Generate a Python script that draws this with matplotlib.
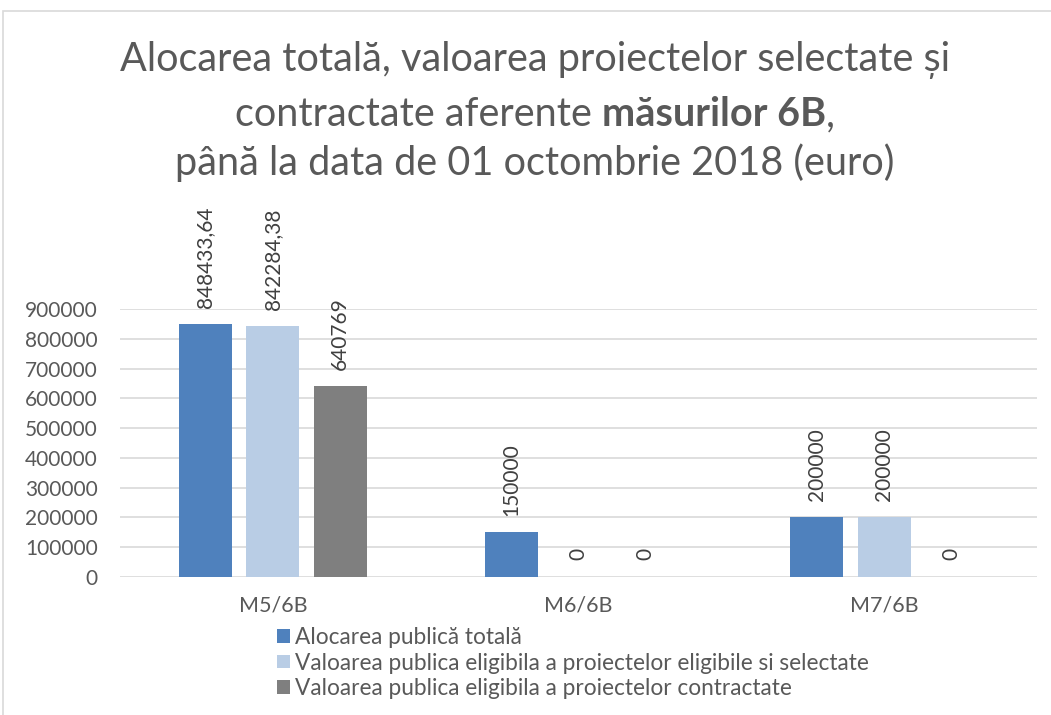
import matplotlib
matplotlib.use("Agg")
import matplotlib.pyplot as plt
import numpy as np
from matplotlib.patches import Rectangle

plt.rcParams['font.family'] = ['Lato', 'DejaVu Sans']

categories = ["M5/6B", "M6/6B", "M7/6B"]
series_names = ["Alocarea publică totală",
                "Valoarea publica eligibila a proiectelor eligibile si selectate",
                "Valoarea publica eligibila a proiectelor contractate"]
alocare = [848433.64, 150000, 200000]
selectate = [842284.38, 0, 200000]
contractate = [640769, 0, 0]
label_alocare = ["848433,64", "150000", "200000"]
label_selectate = ["842284,38", "0", "200000"]
label_contractate = ["640769", "0", "0"]
yticks = [0, 100000, 200000, 300000, 400000, 500000, 600000, 700000, 800000, 900000]

colors = ["#4f81bd", "#b9cde5", "#7f7f7f"]
text_col = "#595959"

fig = plt.figure(figsize=(10.51, 7.15), dpi=100)
W, H = 1051, 715

# chart border (goes past right and bottom edges)
fig.patches.append(Rectangle((3 / W, -0.1), 1.2, 1 - 11 / H + 0.1, transform=fig.transFigure,
                             fill=False, edgecolor="#d9d9d9", linewidth=1.2))

ax = fig.add_axes([120 / W, 1 - 577 / H, (1037 - 120) / W, (577 - 309) / H])

x = np.arange(len(categories))
bw = 0.173
step = 0.22
all_vals = [alocare, selectate, contractate]
all_labels = [label_alocare, label_selectate, label_contractate]
for i in range(3):
    pos = x + (i - 1) * step
    ax.bar(pos, all_vals[i], width=bw, color=colors[i], label=series_names[i], zorder=3)
    for p, v, lab in zip(pos, all_vals[i], all_labels[i]):
        ax.annotate(lab, (p, v), xytext=(0, 12), textcoords="offset points",
                    rotation=90, ha="center", va="bottom", fontsize=15, color="#404040")

ax.set_xlim(-0.5, 2.5)
ax.set_ylim(0, 900000)
ax.set_yticks(yticks)
ax.set_yticklabels([str(t) for t in yticks], fontsize=15, color=text_col)
ax.set_xticks(x)
ax.set_xticklabels(categories, fontsize=15.5, color=text_col)
ax.tick_params(axis="both", length=0)
ax.tick_params(axis="y", pad=16)
ax.tick_params(axis="x", pad=13)
ax.grid(axis="y", color="#d9d9d9", linewidth=1.2, zorder=0)
for s in ax.spines.values():
    s.set_visible(False)

leg = fig.legend(loc="upper left", bbox_to_anchor=(268 / W, 1 - 618 / H), frameon=False,
                 fontsize=16.3, handlelength=0.55, handleheight=0.55, handletextpad=0.25,
                 labelspacing=0.2, labelcolor=text_col, borderaxespad=0)

# title, middle line has a bold part
tsize = 28.5
cx = 535 / W
fig.text(cx, 1 - 60 / H, "Alocarea totală, valoarea proiectelor selectate și",
         ha="center", va="center", fontsize=tsize, color=text_col)
fig.text(cx, 1 - 163 / H, "până la data de 01 octombrie 2018 (euro)",
         ha="center", va="center", fontsize=tsize, color=text_col)
parts = [("contractate aferente ", "normal"), ("măsurilor 6B", "bold"), (",", "normal")]
r = fig.canvas.get_renderer()
texts = []
for s, wgt in parts:
    t = fig.text(0, 1 - 115 / H, s, ha="left", va="center", fontsize=tsize,
                 color=text_col, fontweight=wgt)
    texts.append(t)
widths = [t.get_window_extent(r).width for t in texts]
total = sum(widths)
xpos = cx * W - total / 2
for t, w in zip(texts, widths):
    t.set_x(xpos / W)
    xpos += w

fig.savefig("out.png", dpi=100)
